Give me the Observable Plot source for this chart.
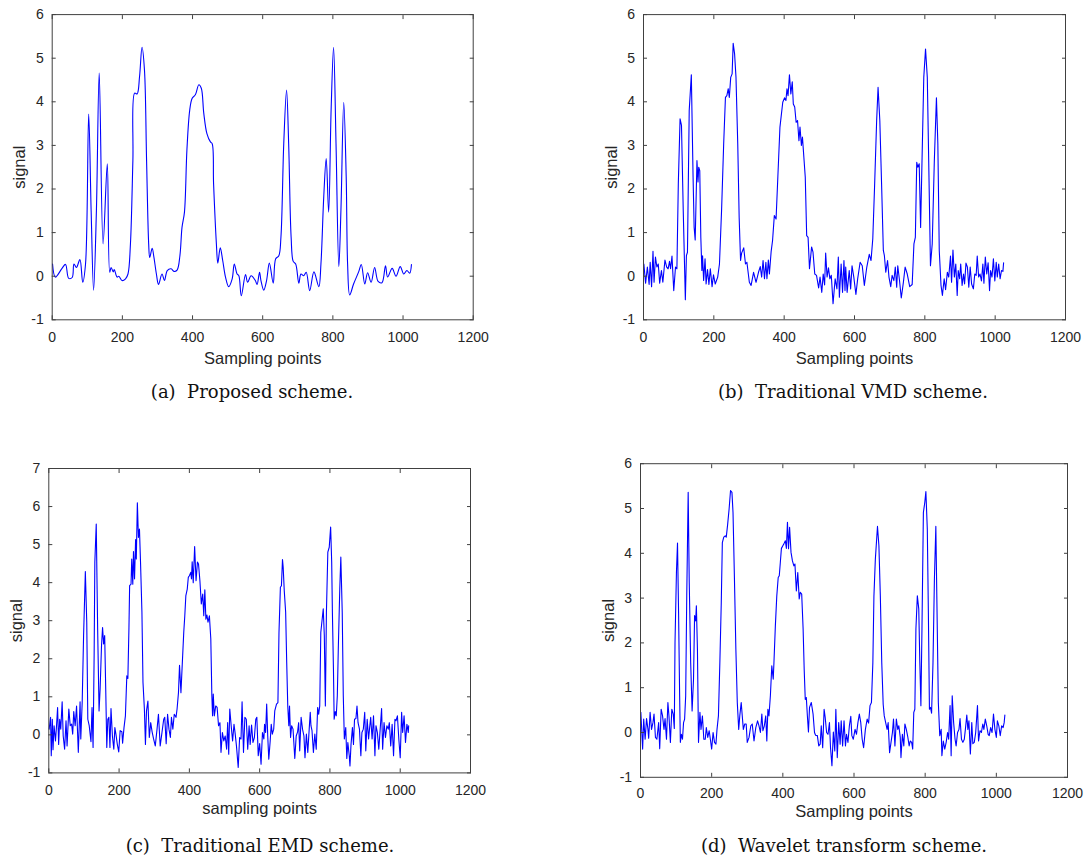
<!DOCTYPE html>
<html>
<head>
<meta charset="utf-8">
<script src="https://cdn.jsdelivr.net/npm/d3@7"></script>
<script src="https://cdn.jsdelivr.net/npm/@observablehq/plot@0.6"></script>
<style>
  body { margin: 0; background: #fff; }
  #fig { position: relative; width: 1089px; height: 861px; overflow: hidden; background: #fff; }
  #fig svg { position: absolute; overflow: visible; }
  .caption {
    position: absolute;
    font-family: "DejaVu Serif", "Liberation Serif", serif;
    font-size: 18px;
    line-height: 1;
    color: #111;
    white-space: pre;
    transform: translateX(-50%);
  }
</style>
</head>
<body>
<div id="fig"></div>
<script>
// Axis ticks shared by the four panels
const xTicks = [0, 200, 400, 600, 800, 1000, 1200];
const yTicksTo6 = [-1, 0, 1, 2, 3, 4, 5, 6];
const yTicksTo7 = [-1, 0, 1, 2, 3, 4, 5, 6, 7];

// Reconstructed signals: [sampling point, signal]
const proposed = [[1,0.28],[9,-0.02],[28,0.18],[38,0.27],[47,-0.05],[57,-0.03],[62,0.28],[69,0.2],[79,0.38],[87,-0.14],[95,0.28],[104,3.72],[111,1.5],[118,-0.32],[126,1.5],[134,4.66],[145,0.74],[157,2.58],[164,0.09],[168,0.2],[174,0.1],[177,0.15],[185,-0.02],[190,0],[199,-0.1],[209,-0.06],[216,0.05],[223,0.74],[230,2.66],[235,4.2],[242,4.18],[249,4.58],[256,5.25],[263,4.73],[269,2.66],[275,0.74],[278,0.43],[285,0.64],[290,0.43],[297,0.05],[303,-0.19],[313,0.05],[320,-0.1],[328,0.13],[339,0.17],[347,0.11],[356,0.14],[364,0.47],[370,1.12],[377,1.47],[384,2.9],[392,3.81],[399,4.08],[408,4.16],[418,4.39],[425,4.31],[432,3.74],[441,3.27],[451,3.08],[456,3.04],[460,2.12],[468,0.74],[472,0.3],[479,0.65],[486,0.36],[494,-0.02],[503,-0.24],[513,-0.06],[519,0.28],[527,0.05],[532,0.01],[539,-0.45],[551,0.04],[557,-0.14],[567,0.01],[579,-0.1],[584,-0.19],[591,0.09],[595,-0.1],[603,-0.32],[611,-0.1],[619,0.3],[630,-0.16],[637,0.4],[646,0.47],[652,0.9],[660,3.04],[668,4.27],[674,3.04],[681,0.9],[687,0.34],[694,0.28],[703,-0.16],[709,0.05],[717,0.01],[724,0.09],[734,-0.33],[746,0.1],[760,-0.24],[766,0.28],[774,1.82],[781,2.7],[788,1.47],[795,3.81],[802,5.25],[809,3.04],[817,0.22],[823,1.51],[831,3.99],[838,2.28],[842,0.28],[848,-0.43],[859,-0.18],[874,0.11],[881,0.27],[891,-0.18],[899,0.08],[909,-0.14],[919,0.2],[929,-0.12],[940,-0.15],[950,0.24],[956,-0.02],[969,0.18],[980,0],[992,0.22],[1002,0.05],[1011,0.13],[1019,0.07],[1024,0.27]];

const vmd = [[1,0.28],[6,-0.16],[11,0.21],[16,-0.19],[19,0.32],[23,-0.24],[27,0.57],[30,-0.14],[34,0.44],[38,0.21],[42,0.28],[46,-0.16],[51,0.13],[55,-0.14],[61,0.37],[66,0.21],[70,0.17],[74,0.34],[77,0.17],[81,0.46],[86,-0.33],[91,0.21],[95,0.17],[99,2.12],[104,3.61],[108,3.46],[113,1.51],[119,-0.54],[122,0.47],[125,0.55],[130,3.8],[136,4.62],[141,2.27],[144,1.12],[147,0.83],[152,2.65],[155,2.16],[157,2.5],[160,2.42],[163,0.89],[166,0.13],[168,0.47],[171,-0.1],[175,0.4],[178,-0.18],[182,0.15],[186,-0.19],[190,0.17],[195,-0.24],[199,0.03],[204,-0.18],[211,-0.02],[216,0.28],[222,1.51],[228,3.04],[233,4.1],[237,4.14],[241,4.3],[244,4.1],[248,4.56],[252,4.64],[255,5.34],[259,5.1],[263,4.56],[268,3.04],[272,1.35],[276,0.36],[279,0.53],[285,0.65],[290,0.28],[294,0.32],[301,-0.14],[306,-0.21],[313,0.09],[320,-0.14],[327,0.09],[332,0.22],[336,-0.02],[340,0.36],[344,-0.06],[348,0.32],[351,-0.06],[355,0.37],[358,0.05],[363,0.57],[367,0.82],[372,1.39],[377,1.31],[382,2.27],[388,3.42],[396,3.99],[401,4.09],[405,4.03],[408,4.3],[411,4.14],[415,4.62],[419,4.18],[423,4.46],[426,3.95],[430,3.88],[434,3.53],[438,3.57],[442,3.11],[445,3.42],[449,3.0],[452,3.19],[456,2.73],[460,2.27],[464,0.93],[468,0.89],[472,0.17],[478,0.67],[482,0.55],[487,0.05],[492,0.02],[498,-0.27],[502,-0.02],[507,-0.37],[511,0.05],[515,-0.2],[518,0.53],[522,-0.02],[526,0.19],[530,-0.06],[534,0.02],[539,-0.63],[545,-0.06],[550,-0.29],[554,0.44],[557,-0.48],[562,0.28],[566,-0.37],[570,0.36],[573,-0.33],[575,0.21],[579,-0.37],[585,0.13],[589,-0.29],[593,0.24],[598,-0.02],[604,-0.42],[609,-0.06],[616,0.32],[622,0.24],[628,-0.21],[635,0.21],[642,0.5],[647,0.36],[652,0.86],[657,2.04],[663,3.57],[667,4.33],[672,3.57],[677,2.12],[682,0.59],[685,0.47],[689,0.09],[694,0.36],[698,-0.02],[703,-0.24],[707,0.02],[712,-0.1],[716,0.21],[720,-0.25],[723,0.24],[728,-0.1],[733,-0.5],[739,-0.14],[744,0.21],[750,0.05],[757,-0.24],[764,-0.19],[769,0.74],[773,0.89],[777,2.61],[780,2.5],[784,2.58],[788,1.12],[793,3.04],[797,4.56],[802,5.21],[807,4.56],[811,2.65],[816,0.24],[821,0.74],[827,2.65],[833,4.09],[837,3.04],[841,0.59],[846,-0.21],[850,-0.44],[855,-0.06],[859,-0.31],[864,0.09],[868,-0.02],[873,0.46],[876,-0.14],[880,0.6],[884,-0.02],[888,0.28],[892,-0.44],[895,0.13],[899,-0.06],[902,0.28],[906,-0.21],[910,0.05],[913,-0.18],[917,0.3],[921,0.21],[925,-0.25],[929,0.21],[933,-0.18],[938,-0.29],[942,0.05],[946,0.02],[949,0.46],[953,-0.02],[957,0.05],[961,-0.11],[965,0.28],[968,-0.16],[972,0.44],[976,0.05],[980,0.31],[984,-0.33],[987,0.13],[991,-0.02],[995,0.4],[999,-0.11],[1003,0.32],[1006,-0.02],[1010,0.28],[1014,-0.06],[1018,0.13],[1022,0.11],[1024,0.31]];

const emd = [[1,0.15],[5,0.46],[7,-0.55],[10,0.41],[12,-0.39],[15,0.24],[19,-0.16],[22,0.24],[25,0.72],[28,-0.25],[31,0.41],[34,0.15],[38,0.87],[41,-0.03],[45,-0.38],[49,0.37],[52,-0.29],[57,0.68],[61,0.24],[65,0.28],[68,0.02],[71,0.61],[75,0.24],[79,0.76],[84,-0.46],[89,0.87],[91,-0.11],[95,0.85],[99,2.61],[104,4.29],[108,2.96],[111,0.41],[115,0.24],[120,-0.18],[123,0.72],[126,-0.33],[129,2.08],[131,4.54],[135,5.54],[139,2.78],[143,0.63],[146,1.2],[150,2.34],[153,2.82],[156,2.39],[159,2.61],[162,1.2],[165,-0.33],[168,0.41],[171,0.46],[174,-0.33],[177,0.69],[181,-0.03],[185,-0.38],[188,0.19],[191,0.02],[195,-0.25],[199,-0.45],[203,0.11],[208,0.08],[210,-0.22],[214,0.19],[218,0.5],[222,1.55],[225,1.48],[228,2.78],[230,3.92],[234,3.96],[236,4.62],[239,3.96],[241,4.82],[244,4.1],[247,5.13],[249,4.62],[252,6.1],[255,5.19],[258,5.41],[261,4.54],[265,3.22],[268,1.38],[272,0.68],[275,-0.25],[278,0.63],[282,0.89],[286,-0.07],[290,0.32],[294,0.08],[298,-0.1],[303,-0.29],[308,0.15],[312,0.54],[317,-0.29],[322,0.06],[327,0.41],[330,0.46],[334,-0.23],[338,0.54],[342,0.15],[346,-0.07],[349,0.46],[353,0.15],[357,0.54],[362,0.46],[365,0.68],[369,1.11],[372,1.83],[376,1.11],[380,1.9],[384,2.69],[387,3.13],[390,3.66],[394,3.83],[397,4.14],[400,4.18],[404,4.27],[406,4.1],[408,4.55],[411,4.0],[415,4.95],[419,4.05],[423,4.54],[426,4.49],[430,4.05],[434,3.44],[438,3.7],[441,3.13],[444,3.81],[447,3.04],[450,3.15],[453,2.96],[457,3.13],[461,2.52],[464,1.03],[466,0.5],[468,1.07],[471,0.5],[475,0.76],[479,0.72],[483,0.24],[487,0.32],[490,-0.46],[494,0.06],[498,-0.16],[502,-0.03],[506,-0.38],[509,0.32],[512,-0.51],[515,0.68],[519,0.24],[523,-0.16],[527,0.28],[530,0.06],[534,-0.29],[539,-0.86],[543,-0.07],[547,-0.11],[550,0.87],[554,-0.46],[558,0.46],[562,0.41],[566,-0.38],[570,0.24],[573,-0.25],[577,0.26],[581,-0.2],[585,-0.07],[589,0.41],[592,0.46],[596,-0.55],[600,-0.23],[604,-0.77],[608,0.06],[612,-0.11],[614,0.28],[617,0.06],[620,0.81],[623,-0.03],[626,-0.64],[630,-0.16],[633,0.28],[636,0.02],[640,0.15],[643,0.63],[648,0.81],[652,0.85],[655,2.69],[659,3.88],[662,3.92],[665,4.61],[667,4.4],[670,3.79],[674,3.22],[677,1.9],[680,0.76],[683,0.24],[685,0.76],[688,-0.07],[691,0.24],[695,0.15],[700,-0.62],[704,-0.03],[708,0.08],[711,0.32],[714,-0.42],[718,0.46],[722,0.15],[726,-0.03],[729,-0.6],[733,0.02],[737,-0.46],[741,0.15],[744,0.59],[746,0.24],[749,0.11],[753,-0.46],[757,0.02],[761,-0.38],[765,0.72],[768,0.54],[771,0.76],[774,2.69],[777,2.96],[781,3.31],[784,2.61],[787,0.76],[790,3.22],[794,4.8],[798,4.93],[802,5.46],[805,4.54],[807,3.22],[810,1.73],[812,0.41],[815,0.61],[818,0.5],[821,1.03],[824,2.34],[828,3.83],[831,4.67],[835,3.22],[838,1.03],[841,-0.11],[845,0.19],[848,-0.62],[851,-0.2],[855,-0.55],[857,-0.82],[860,-0.25],[864,0.19],[867,-0.25],[870,0.41],[874,0.43],[877,0.76],[880,0.32],[884,0.15],[888,-0.55],[891,0.06],[895,0.15],[899,0.59],[902,-0.42],[906,0.41],[910,-0.11],[913,0.19],[916,0.46],[920,-0.11],[924,0.5],[928,-0.55],[931,0.24],[935,0.06],[939,-0.38],[943,0.15],[947,0.69],[950,-0.38],[954,0.32],[958,-0.07],[962,0.24],[966,0.15],[969,0.32],[973,-0.29],[977,0.28],[981,-0.55],[985,0.41],[988,0.37],[992,0.5],[996,-0.11],[1000,-0.6],[1004,0.59],[1007,0.06],[1011,0.5],[1015,-0.2],[1019,0.28],[1023,0.06],[1024,0.24]];

const wavelet = [[1,0.45],[6,-0.37],[9,0.3],[13,-0.15],[17,0.31],[21,0.07],[23,-0.13],[27,0.45],[31,0.07],[35,0.22],[38,0.41],[42,-0.11],[46,-0.15],[51,0.22],[54,-0.36],[58,0.52],[62,0.37],[66,0.07],[69,0.31],[73,-0.15],[77,0.67],[80,0.37],[84,-0.22],[88,0.52],[92,0.41],[95,0.09],[97,2.01],[101,3.57],[104,4.23],[107,2.68],[110,0.82],[112,-0.22],[115,-0.04],[118,-0.15],[121,0.22],[124,0.3],[127,0.82],[130,3.05],[134,5.36],[137,3.35],[141,1.56],[145,0.48],[149,1.19],[152,2.61],[155,2.49],[157,2.83],[160,1.86],[163,-0.22],[167,0.45],[170,0.07],[174,0.37],[178,-0.15],[182,-0.15],[185,0.11],[189,-0.11],[193,0.04],[197,-0.19],[200,-0.37],[204,0],[208,-0.22],[212,-0.26],[215,0.07],[219,0.37],[223,1.56],[227,2.9],[230,4.24],[234,4.36],[238,4.39],[241,4.36],[245,4.65],[249,4.99],[253,5.4],[257,5.36],[260,4.91],[264,3.43],[268,1.86],[272,0.67],[276,0.07],[279,0.37],[283,0.67],[286,0.37],[289,0.07],[293,0.19],[297,0.19],[300,-0.22],[305,-0.11],[310,0.15],[314,0.19],[319,-0.19],[324,0.11],[329,0.26],[333,0.15],[337,0],[341,0.41],[344,0.04],[348,0.15],[352,0.37],[355,-0.19],[358,0.52],[361,0.37],[365,0.82],[369,1.49],[373,1.19],[375,1.56],[379,2.38],[383,3.05],[387,3.46],[390,3.5],[393,3.8],[396,4.11],[400,4.17],[403,4.21],[407,4.28],[410,4.11],[413,4.69],[416,4.1],[419,4.58],[423,4.02],[427,3.83],[431,3.72],[434,3.76],[438,3.16],[442,3.57],[446,2.98],[449,3.13],[453,3.09],[457,2.31],[460,1.41],[463,0.74],[466,0.78],[469,0.37],[472,0.01],[475,0.56],[480,0.67],[485,0.41],[489,0],[492,-0.06],[497,-0.07],[501,-0.3],[505,-0.26],[508,0.15],[512,-0.34],[516,0.52],[519,0.34],[523,0],[527,-0.04],[531,0.22],[534,-0.34],[538,-0.74],[542,0.01],[546,-0.41],[549,0.52],[553,-0.56],[557,0.22],[561,-0.26],[564,0.26],[568,-0.3],[572,0.26],[576,-0.3],[579,-0.04],[583,-0.22],[587,0.15],[591,0.36],[594,-0.07],[598,-0.15],[603,0.07],[607,-0.04],[611,0.22],[615,0.41],[619,0.22],[623,-0.15],[627,-0.34],[632,0.07],[637,0.3],[641,0.21],[645,0.6],[649,0.67],[653,1.56],[656,3.05],[660,3.87],[664,4.36],[666,4.6],[670,4.17],[674,3.05],[678,1.56],[682,0.63],[685,0.37],[689,0.22],[693,0.07],[696,0.22],[700,-0.45],[704,-0.22],[708,0],[711,0.3],[715,-0.3],[719,0.3],[723,0.07],[726,0.15],[730,-0.11],[732,-0.56],[736,-0.04],[740,-0.3],[743,0.19],[747,0.07],[751,-0.09],[755,-0.3],[758,-0.19],[762,-0.22],[765,-0.37],[768,0.45],[771,0.52],[774,2.31],[778,3.05],[782,2.76],[785,1.56],[788,0.6],[791,2.31],[795,4.91],[799,5.14],[802,5.38],[806,4.54],[809,2.68],[812,0.52],[815,0.56],[818,0.43],[822,1.56],[826,3.43],[830,4.6],[833,2.9],[837,0.67],[841,-0.07],[845,0.07],[847,-0.52],[851,-0.19],[855,-0.37],[859,-0.22],[863,0],[866,-0.15],[870,0.6],[873,-0.52],[876,0.82],[880,0.22],[884,-0.15],[887,-0.3],[891,0],[895,0.07],[898,0.31],[902,-0.15],[906,-0.22],[910,-0.15],[913,0.07],[917,0.39],[920,0.07],[923,0.26],[927,-0.48],[931,0.22],[934,-0.25],[938,-0.22],[942,0],[947,0.6],[950,-0.19],[954,0.04],[958,0],[962,0.19],[965,0.07],[969,0.3],[973,0.15],[977,-0.04],[980,-0.07],[984,0.11],[988,0],[992,0.41],[996,0.07],[1000,-0.11],[1003,0.26],[1007,0.15],[1011,-0.07],[1015,0.15],[1019,0.11],[1022,0.22],[1024,0.39]];

// Panel texts
const xLabels = ["Sampling points", "Sampling points", "sampling points", "Sampling points"];
const yLabel = "signal";
const captions = ["(a)  Proposed scheme.", "(b)  Traditional VMD scheme.", "(c)  Traditional EMD scheme.", "(d)  Wavelet transform scheme."];

// Layout of the 2×2 grid of subfigures
const layout = [
  {series: proposed, yTicks: yTicksTo6, curve: "catmull-rom", left: 0,   top: 0,   width: 545, height: 372, ml: 51.7, mr: 72.3, mt: 14.1, mb: 52.7, tickPad: 12.4, xLabelDy: 44,   capX: 252, capTop: 383},
  {series: vmd,      yTicks: yTicksTo6, curve: "linear",      left: 545, top: 0,   width: 544, height: 372, ml: 98,   mr: 24,   mt: 14.1, mb: 52.7, tickPad: 12.4, xLabelDy: 44,   capX: 853, capTop: 383},
  {series: emd,      yTicks: yTicksTo7, curve: "linear",      left: 0,   top: 430, width: 545, height: 400, ml: 48.3, mr: 75,   mt: 38,   mb: 57.6, tickPad: 12.4, xLabelDy: 41.5, capX: 260, capTop: 836.5},
  {series: wavelet,  yTicks: yTicksTo6, curve: "linear",      left: 545, top: 430, width: 544, height: 400, ml: 95,   mr: 22,   mt: 33.2, mb: 53.2, tickPad: 11,   xLabelDy: 39.5, capX: 844, capTop: 836.5}
];

const fig = document.getElementById("fig");
const axisColor = "#404040";
const textColor = "#262626";
const fmt = (d) => String(d);

layout.forEach((p, k) => {
  const rows = p.series.map(([i, v]) => ({i, v}));
  const svg = Plot.plot({
    width: p.width,
    height: p.height,
    marginLeft: p.ml,
    marginRight: p.mr,
    marginTop: p.mt,
    marginBottom: p.mb,
    style: {fontFamily: "'Liberation Sans', Arial, Helvetica, sans-serif", fontSize: "14px", color: textColor, background: "transparent"},
    x: {domain: [0, 1200]},
    y: {domain: [d3.min(p.yTicks), d3.max(p.yTicks)]},
    marks: [
      Plot.line(rows, {x: "i", y: "v", stroke: "#0000ff", strokeWidth: 1.1, curve: p.curve}),
      Plot.frame({stroke: axisColor, strokeWidth: 1}),
      // inward ticks with labels on bottom and left, bare ticks on top and right
      Plot.axisX({anchor: "bottom", ticks: xTicks, tickFormat: fmt, tickSize: -4, tickPadding: p.tickPad + 4, stroke: axisColor, fill: textColor, label: null}),
      Plot.axisX({anchor: "top", ticks: xTicks, tickSize: -4, stroke: axisColor, fill: "none", label: null}),
      Plot.axisY({anchor: "left", ticks: p.yTicks, tickFormat: fmt, tickSize: -4, tickPadding: 12.4, stroke: axisColor, fill: textColor, label: null}),
      Plot.axisY({anchor: "right", ticks: p.yTicks, tickSize: -4, stroke: axisColor, fill: "none", label: null}),
      Plot.text([xLabels[k]], {frameAnchor: "bottom", text: (d) => d, lineAnchor: "bottom", dy: p.xLabelDy, fontSize: 16.5, fill: textColor}),
      Plot.text([yLabel], {frameAnchor: "left", text: (d) => d, rotate: -90, lineAnchor: "top", textAnchor: "middle", dx: -38.5, fontSize: 16.5, fill: textColor})
    ]
  });
  svg.style.left = p.left + "px";
  svg.style.top = p.top + "px";
  fig.appendChild(svg);

  const cap = document.createElement("div");
  cap.className = "caption";
  cap.textContent = captions[k];
  cap.style.left = p.capX + "px";
  cap.style.top = p.capTop + "px";
  fig.appendChild(cap);
});
</script>
</body>
</html>
